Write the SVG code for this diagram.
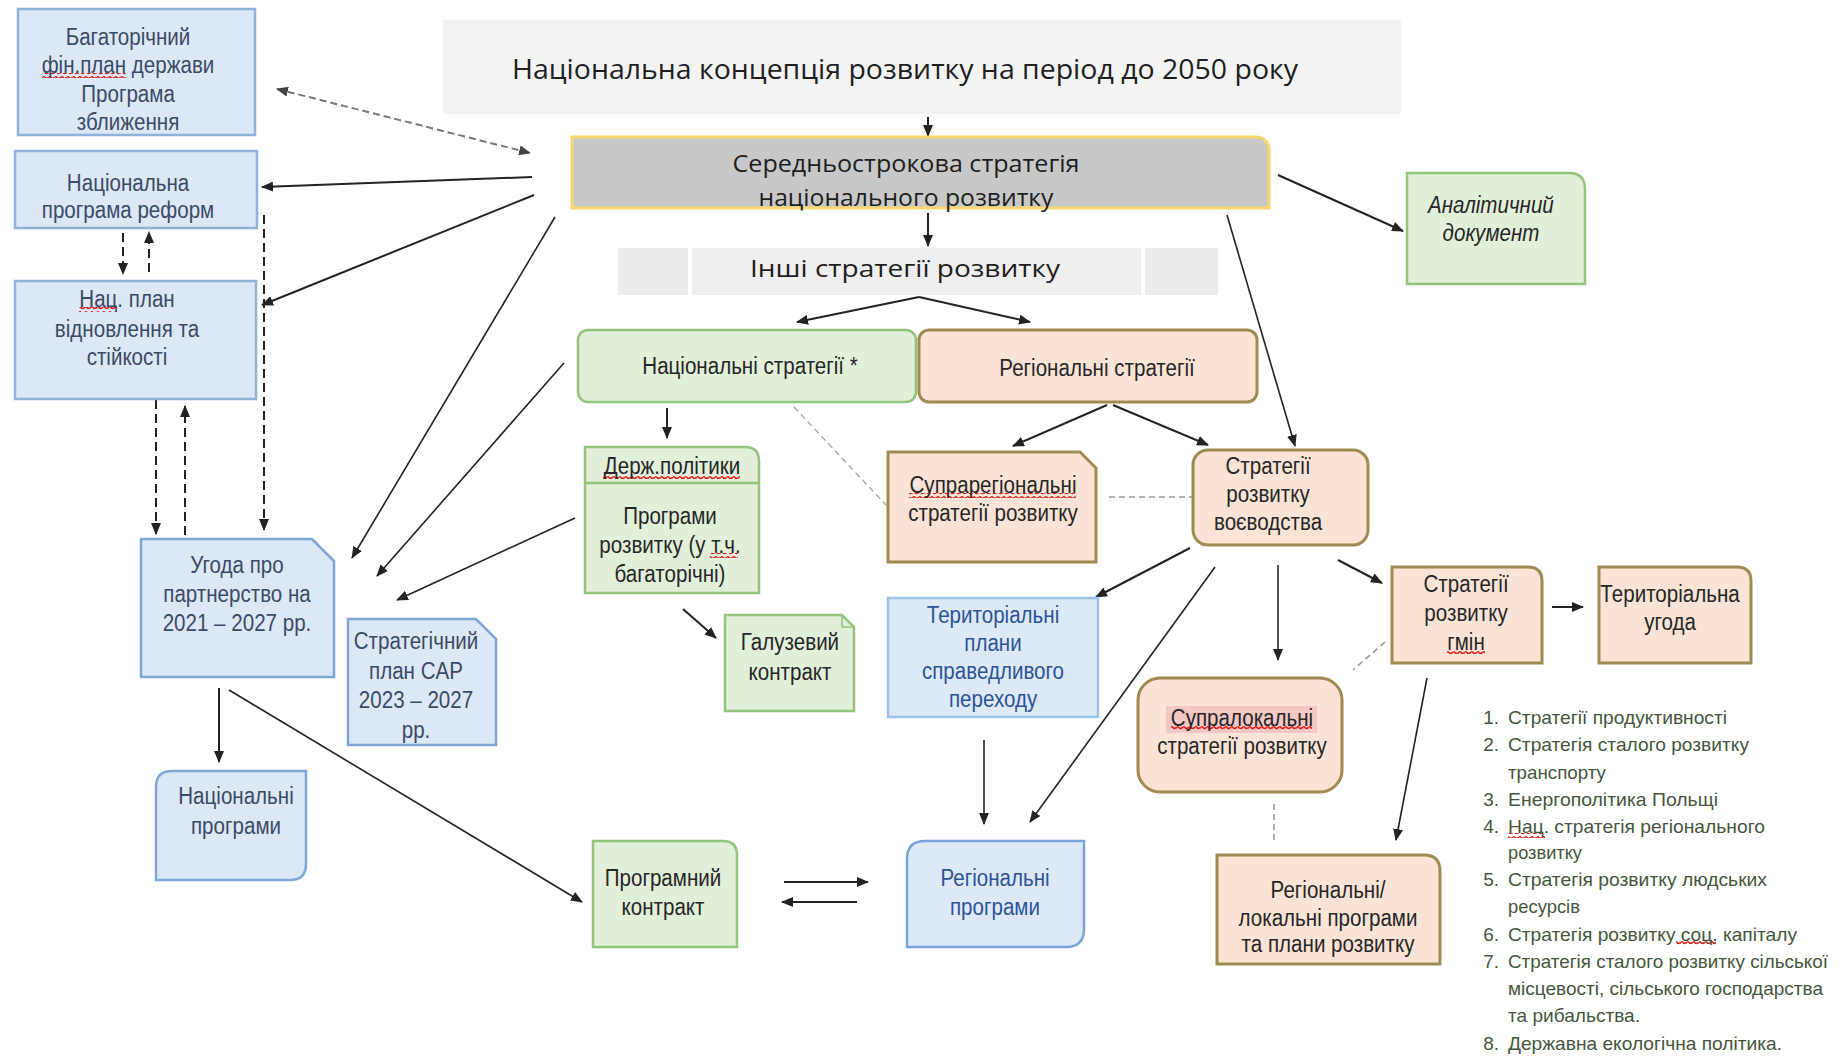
<svg xmlns="http://www.w3.org/2000/svg" width="1842" height="1057" viewBox="0 0 1842 1057">
<defs>
<style>
.t{font-family:'Liberation Sans',Arial,sans-serif;font-size:24.5px;text-anchor:middle;fill:#262626;transform:scaleX(0.84);transform-box:fill-box;transform-origin:center}
.tb{fill:#3b4a67}
.tb2{fill:#2e5395}
.c{font-family:'Open Sans','Noto Sans',sans-serif;text-anchor:middle;fill:#1e1e1e}
.li{font-family:'Liberation Sans',Arial,sans-serif;font-size:19px;fill:#46553d}
.num{text-anchor:end}
.blue{fill:#dce8f5;stroke:#8fb1da;stroke-width:2.5}
.blue2{fill:#dce8f5;stroke:#7ea6d8;stroke-width:2.5}
.green{fill:#e2efd9;stroke:#93c47d;stroke-width:2.5}
.peach{fill:#fbe4d5;stroke:#a08a53;stroke-width:3}
.ar{fill:none;stroke:#222;stroke-width:2;marker-end:url(#ah)}
.dsh{fill:none;stroke:#222;stroke-width:2;stroke-dasharray:9 5;marker-end:url(#ah)}
.gd{fill:none;stroke:#999;stroke-width:1.6;stroke-dasharray:6 4}
.wv{fill:url(#wave)}
</style>
<marker id="ah" viewBox="0 0 12 10" refX="11" refY="5" markerWidth="12" markerHeight="10" orient="auto-start-reverse" markerUnits="userSpaceOnUse">
<path d="M0,0 L12,5 L0,10 Z" fill="#222"/>
</marker>
<marker id="ahg" viewBox="0 0 12 10" refX="11" refY="5" markerWidth="12" markerHeight="10" orient="auto-start-reverse" markerUnits="userSpaceOnUse">
<path d="M0,0 L12,5 L0,10 Z" fill="#444"/>
</marker>
<pattern id="wave" width="6" height="5" patternUnits="userSpaceOnUse">
<path d="M0,3.5 Q1.5,0.5 3,2.5 T6,2.5" fill="none" stroke="#d11" stroke-width="1.3"/>
</pattern>
</defs>
<rect width="1842" height="1057" fill="#ffffff"/>

<g id="connectors">
<path class="ar" d="M928,117 V136"/>
<path class="ar" d="M928,213 V246"/>
<path class="ar" d="M919,297 L797,322"/>
<path class="ar" d="M919,297 L1030,322"/>
<path class="ar" d="M1278,175 L1403,231"/>
<path class="ar" style="stroke-width:1.6" d="M1227,215 L1295,446"/>
<path fill="none" stroke="#777" stroke-width="2" stroke-dasharray="7 4" marker-start="url(#ahg)" marker-end="url(#ahg)" d="M277,89 L530,153"/>
<path class="ar" d="M532,177 L262,187"/>
<path class="ar" d="M534,195 L262,305"/>
<path class="ar" style="stroke-width:1.6" d="M555,217 L352,558"/>
<path class="ar" style="stroke-width:1.6" d="M564,363 L377,576"/>
<path class="ar" style="stroke-width:1.6" d="M575,518 L397,600"/>
<path class="dsh" d="M264,215 V530"/>
<path class="dsh" d="M123,233 V274"/>
<path class="dsh" d="M149,272 V232"/>
<path class="dsh" d="M156,400 V534"/>
<path class="dsh" d="M185,535 V406"/>
<path class="ar" d="M219,688 V762"/>
<path class="ar" style="stroke-width:1.6" d="M229,690 L582,902"/>
<path class="ar" d="M667,408 V438"/>
<path class="ar" d="M683,609 L716,638"/>
<path class="gd" style="stroke-width:1.2" d="M794,407 L886,505"/>
<path class="ar" d="M1107,405 L1013,446"/>
<path class="ar" d="M1113,405 L1208,445"/>
<path class="gd" d="M1109,497 H1192"/>
<path class="ar" d="M1190,548 L1096,597"/>
<path class="ar" style="stroke-width:1.6" d="M1215,567 L1030,822"/>
<path class="ar" style="stroke-width:1.6" d="M1278,565 V660"/>
<path class="ar" d="M1338,560 L1382,583"/>
<path class="gd" d="M1385,642 L1353,670"/>
<path class="ar" d="M1552,607 H1583"/>
<path class="ar" style="stroke-width:1.6" d="M1427,678 L1396,840"/>
<path class="ar" style="stroke-width:1.6" d="M984,740 V824"/>
<path class="gd" d="M1274,804 V843"/>
<path class="ar" d="M784,882 H868"/>
<path class="ar" d="M857,902 H782"/>
</g>

<g id="n_title">
<rect x="443" y="20" width="958" height="94" fill="#f3f3f3"/>
<text class="c" x="905" y="79" font-size="27" textLength="786" lengthAdjust="spacingAndGlyphs">Національна концепція розвитку на період до 2050 року</text>
</g>

<g id="n_mid">
<path d="M572,137 H1255 Q1269,137 1269,151 V208 H572 Z" fill="#c8c8c8" stroke="#f7d86a" stroke-width="3"/>
<text class="c" x="906" y="172" font-size="24" textLength="347" lengthAdjust="spacingAndGlyphs">Середньострокова стратегія</text>
<text class="c" x="906" y="206" font-size="24" textLength="295" lengthAdjust="spacingAndGlyphs">національного розвитку</text>
</g>

<g id="n_other">
<rect x="618" y="248" width="70" height="47" fill="#ebebeb"/>
<rect x="692" y="248" width="449" height="47" fill="#efefef"/>
<rect x="1145" y="248" width="73" height="47" fill="#ebebeb"/>
<text class="c" x="905" y="277" font-size="24" textLength="310" lengthAdjust="spacingAndGlyphs">Інші стратегії розвитку</text>
</g>

<g id="n_bagato">
<rect class="blue" x="18" y="9" width="237" height="126"/>
<rect class="wv" x="42" y="73" width="84" height="5"/>
<text class="t tb" x="128" y="45">Багаторічний</text>
<text class="t tb" x="128" y="73">фін.план держави</text>
<text class="t tb" x="128" y="102">Програма</text>
<text class="t tb" x="128" y="130">зближення</text>
</g>

<g id="n_reform">
<rect class="blue" x="15" y="151" width="242" height="77"/>
<text class="t tb" x="128" y="191">Національна</text>
<text class="t tb" x="128" y="218">програма реформ</text>
</g>

<g id="n_plan">
<rect class="blue" x="15" y="281" width="241" height="118"/>
<rect class="wv" x="79" y="307" width="38" height="5"/>
<text class="t tb" x="127" y="307">Нац. план</text>
<text class="t tb" x="127" y="337">відновлення та</text>
<text class="t tb" x="127" y="365">стійкості</text>
</g>

<g id="n_ugoda">
<path class="blue2" d="M141,539 H312 L334,561 V677 H141 Z"/>
<text class="t tb" x="237" y="573">Угода про</text>
<text class="t tb" x="237" y="602">партнерство на</text>
<text class="t tb" x="237" y="631">2021 – 2027 рр.</text>
</g>

<g id="n_cap">
<path class="blue2" d="M348,619 H476 L496,639 V745 H348 Z"/>
<text class="t tb" x="416" y="649">Стратегічний</text>
<text class="t tb" x="416" y="679">план CAP</text>
<text class="t tb" x="416" y="708">2023 – 2027</text>
<text class="t tb" x="416" y="738">рр.</text>
</g>

<g id="n_natprog">
<path class="blue2" d="M172,771 H306 V864 Q306,880 290,880 H156 V787 Q156,771 172,771 Z"/>
<text class="t tb" x="236" y="804">Національні</text>
<text class="t tb" x="236" y="834">програми</text>
</g>

<g id="n_natstr">
<rect class="green" x="578" y="330" width="338" height="72" rx="10"/>
<text class="t" x="750" y="374">Національні стратегії *</text>
</g>

<g id="n_regstr">
<rect class="peach" x="919" y="330" width="338" height="72" rx="10"/>
<text class="t" x="1097" y="376">Регіональні стратегії</text>
</g>

<g id="n_analyt">
<path class="green" d="M1407,173 H1569 Q1585,173 1585,189 V284 H1407 Z"/>
<text class="t" x="1491" y="213" font-style="italic">Аналітичний</text>
<text class="t" x="1491" y="241" font-style="italic">документ</text>
</g>

<g id="n_derzh">
<path class="green" d="M585,447 H745 Q759,447 759,461 V593 H585 Z"/>
<path d="M586,483 H758" stroke="#93c47d" stroke-width="2.5"/>
<rect class="wv" x="603" y="474" width="137" height="5"/>
<text class="t" x="672" y="474">Держ.політики</text>
<text class="t" x="670" y="524">Програми</text>
<rect class="wv" x="710" y="553" width="28" height="5"/>
<text class="t" x="670" y="553">розвитку (у т.ч.</text>
<text class="t" x="670" y="582">багаторічні)</text>
</g>

<g id="n_galuz">
<path class="green" d="M725,615 H842 L854,627 V711 H725 Z"/>
<path d="M842,615 V627 H854" fill="none" stroke="#93c47d" stroke-width="1.5"/>
<text class="t" x="790" y="650">Галузевий</text>
<text class="t" x="790" y="680">контракт</text>
</g>

<g id="n_prog">
<path class="green" d="M593,841 H723 Q737,841 737,855 V947 H593 Z"/>
<text class="t" x="663" y="886">Програмний</text>
<text class="t" x="663" y="915">контракт</text>
</g>

<g id="n_supreg">
<path class="peach" d="M888,452 H1080 L1096,468 V562 H888 Z"/>
<rect class="wv" x="909" y="493" width="167" height="5"/>
<text class="t" x="993" y="493">Супрарегіональні</text>
<text class="t" x="993" y="521">стратегії розвитку</text>
</g>

<g id="n_voiv">
<rect class="peach" x="1193" y="450" width="175" height="95" rx="15"/>
<text class="t" x="1268" y="474">Стратегії</text>
<text class="t" x="1268" y="502">розвитку</text>
<text class="t" x="1268" y="530">воєводства</text>
</g>

<g id="n_terplan">
<rect x="888" y="598" width="210" height="119" fill="#dce9f7" stroke="#9dc3e6" stroke-width="2.5"/>
<text class="t tb2" x="993" y="623">Територіальні</text>
<text class="t tb2" x="993" y="651">плани</text>
<text class="t tb2" x="993" y="679">справедливого</text>
<text class="t tb2" x="993" y="707">переходу</text>
</g>

<g id="n_suploc">
<rect class="peach" x="1138" y="678" width="204" height="114" rx="22"/>
<rect x="1166" y="706" width="151" height="27" fill="#f4c7c3"/>
<rect class="wv" x="1171" y="726" width="141" height="5"/>
<text class="t" x="1242" y="726">Супралокальні</text>
<text class="t" x="1242" y="754">стратегії розвитку</text>
</g>

<g id="n_hmin">
<path class="peach" d="M1392,567 H1528 Q1542,567 1542,581 V663 H1392 Z"/>
<rect class="wv" x="1447" y="649" width="38" height="5"/>
<text class="t" x="1466" y="592">Стратегії</text>
<text class="t" x="1466" y="621">розвитку</text>
<text class="t" x="1466" y="650">гмін</text>
</g>

<g id="n_terug">
<path class="peach" d="M1599,567 H1737 Q1751,567 1751,581 V663 H1599 Z"/>
<text class="t" x="1670" y="602">Територіальна</text>
<text class="t" x="1670" y="630">угода</text>
</g>

<g id="n_regprog">
<path d="M925,841 H1084 V929 Q1084,947 1066,947 H907 V859 Q907,841 925,841 Z" fill="#dde9f7" stroke="#7ba3d9" stroke-width="2.5"/>
<text class="t tb2" x="995" y="886">Регіональні</text>
<text class="t tb2" x="995" y="915">програми</text>
</g>

<g id="n_regloc">
<path class="peach" d="M1217,855 H1424 Q1440,855 1440,871 V964 H1217 Z"/>
<text class="t" x="1328" y="898">Регіональні/</text>
<text class="t" x="1328" y="926">локальні програми</text>
<text class="t" x="1328" y="952">та плани розвитку</text>
</g>

<g id="n_list">
<text class="li num" x="1499" y="724">1.</text>
<text class="li" x="1508" y="724" textLength="219" lengthAdjust="spacingAndGlyphs">Стратегії продуктивності</text>
<text class="li num" x="1499" y="751">2.</text>
<text class="li" x="1508" y="751" textLength="241" lengthAdjust="spacingAndGlyphs">Стратегія сталого розвитку</text>
<text class="li" x="1508" y="779" textLength="98" lengthAdjust="spacingAndGlyphs">транспорту</text>
<text class="li num" x="1499" y="806">3.</text>
<text class="li" x="1508" y="806" textLength="210" lengthAdjust="spacingAndGlyphs">Енергополітика Польщі</text>
<text class="li num" x="1499" y="833">4.</text>
<rect class="wv" x="1508" y="833" width="37" height="5"/>
<text class="li" x="1508" y="833" textLength="257" lengthAdjust="spacingAndGlyphs">Нац. стратегія регіонального</text>
<text class="li" x="1508" y="859" textLength="74" lengthAdjust="spacingAndGlyphs">розвитку</text>
<text class="li num" x="1499" y="886">5.</text>
<text class="li" x="1508" y="886" textLength="259" lengthAdjust="spacingAndGlyphs">Стратегія розвитку людських</text>
<text class="li" x="1508" y="913" textLength="72" lengthAdjust="spacingAndGlyphs">ресурсів</text>
<text class="li num" x="1499" y="941">6.</text>
<rect class="wv" x="1676" y="941" width="40" height="5"/>
<text class="li" x="1508" y="941" textLength="289" lengthAdjust="spacingAndGlyphs">Стратегія розвитку соц. капіталу</text>
<text class="li num" x="1499" y="968">7.</text>
<text class="li" x="1508" y="968" textLength="320" lengthAdjust="spacingAndGlyphs">Стратегія сталого розвитку сільської</text>
<text class="li" x="1508" y="995" textLength="315" lengthAdjust="spacingAndGlyphs">місцевості, сільського господарства</text>
<text class="li" x="1508" y="1022" textLength="132" lengthAdjust="spacingAndGlyphs">та рибальства.</text>
<text class="li num" x="1499" y="1050">8.</text>
<text class="li" x="1508" y="1050" textLength="274" lengthAdjust="spacingAndGlyphs">Державна екологічна політика.</text>
</g>
</svg>
